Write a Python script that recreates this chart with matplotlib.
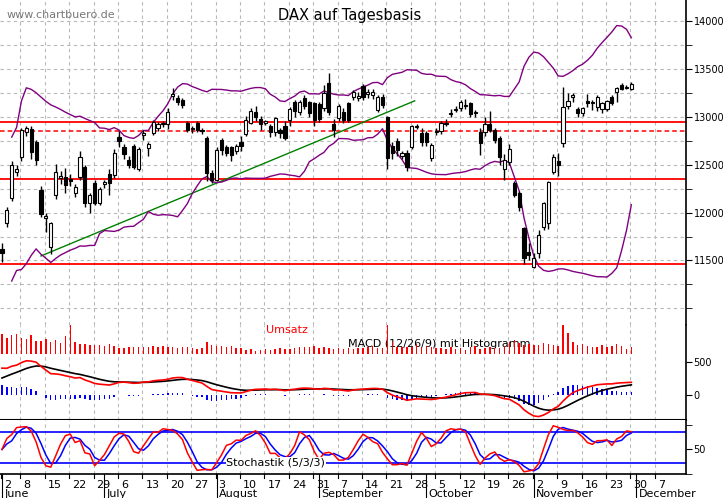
import numpy as np
import pandas as pd
import matplotlib
matplotlib.use("Agg")
import matplotlib.pyplot as plt

opens = [11620,11890,12150,12420,12580,12840,12870,12740,12240,11940,
         11640,12180,12360,12370,12350,12200,12370,12480,12100,12310,
         12100,12300,12400,12390,12790,12680,12550,12700,12450,12810,
         12670,12830,12880,12920,12920,13220,13200,13180,12940,12870,
         12940,12860,12780,12410,12340,12760,12690,12680,12640,12740,
         12820,12940,13050,12980,12940,12900,12840,12860,12900,12970,
         13150,13050,13200,13150,13140,13130,13090,13350,12920,12990,
         13050,13140,13210,13200,13320,13240,13230,13070,13210,13000,
         12700,12750,12590,12620,12690,12890,12830,12830,12570,12840,
         12850,12920,13030,13070,13090,13110,13140,13040,12840,12840,
         12930,12860,12780,12450,12530,12310,12200,11840,11590,11430,
         11580,11850,11890,12420,12540,12730,13110,13210,13080,13040,
         13170,13140,13100,13080,13080,13210,13260,13330,13300,13290]
closes = [11580,12030,12500,12460,12860,12880,12630,12550,11980,11960,
          11890,12420,12380,12290,12330,12270,12580,12100,12180,12100,
          12250,12320,12310,12620,12750,12610,12500,12480,12660,12830,
          12720,12950,12920,12930,13050,13230,13150,13120,12860,12880,
          12860,12850,12410,12340,12650,12650,12620,12600,12700,12700,
          12970,13060,13000,12930,12950,12840,12990,12830,12780,13080,
          13060,13150,13110,13040,12970,12980,13250,13050,12860,13110,
          12970,12970,13260,13210,13210,13250,13260,13210,13120,12570,
          12620,12650,12620,12480,12900,12900,12740,12740,12710,12850,
          12940,12930,13040,13080,13150,13120,13030,13040,12730,12920,
          12860,12760,12580,12550,12660,12180,12060,11530,11560,11530,
          11770,12100,12320,12580,12500,13100,13170,13220,13040,13090,
          13140,13150,13210,13140,13170,13140,13300,13290,13310,13340]
highs = [11680,12060,12540,12500,12880,12900,12900,12760,12280,12000,
         11900,12510,12430,12470,12400,12300,12640,12500,12200,12340,
         12270,12340,12450,12660,12850,12720,12590,12720,12690,12860,
         12740,12970,12950,12960,13090,13300,13230,13200,12960,12900,
         12960,12880,12800,12440,12680,12780,12710,12700,12720,12800,
         13010,13090,13110,13010,12970,12920,13000,12880,12960,13100,
         13180,13180,13230,13170,13160,13150,13330,13460,12980,13130,
         13090,13160,13280,13260,13340,13290,13290,13230,13240,13010,
         12740,12780,12640,12650,12910,12930,12880,12850,12730,12880,
         12960,12980,13080,13110,13180,13190,13160,13070,12880,13000,
         13060,12880,12800,12610,12720,12330,12230,11850,11680,11580,
         11820,12110,12330,12610,12620,13310,13250,13250,13100,13100,
         13240,13180,13230,13160,13180,13230,13310,13350,13330,13360]
lows = [11480,11850,12120,12380,12540,12800,12560,12500,11950,11800,
        11570,12140,12300,12200,12280,12160,12340,12060,12000,12080,
        12080,12260,12180,12360,12690,12560,12470,12460,12430,12760,
        12590,12810,12850,12890,12870,13180,13120,13090,12840,12830,
        12840,12820,12330,12310,12330,12600,12590,12540,12610,12640,
        12800,12920,12960,12860,12910,12790,12800,12780,12760,12900,
        13000,13020,13080,13000,12900,12950,13060,13020,12790,12960,
        12940,12950,13180,13170,13180,13200,13190,13050,13090,12460,
        12560,12590,12560,12430,12660,12870,12700,12700,12540,12810,
        12820,12900,13000,13050,13060,13080,13000,13000,12600,12800,
        12840,12730,12500,12340,12500,12160,12020,11460,11500,11420,
        11530,11820,11830,12400,12380,12680,13080,13150,13000,13010,
        13100,13070,13060,13040,13060,13120,13160,13280,13290,13280]
volume = [20,16,19,20,16,15,19,13,13,15,12,14,11,18,33,12,10,10,9,9,
          9,8,10,8,6,6,7,7,7,7,7,8,7,8,7,7,6,7,7,6,
          5,6,12,9,8,8,7,8,6,6,4,5,3,4,5,4,5,6,5,5,
          6,7,7,7,8,6,7,6,5,6,5,6,5,6,6,7,8,6,6,32,
          12,7,7,7,7,10,7,8,7,6,6,5,7,5,6,4,7,8,5,6,
          7,6,6,8,12,14,11,9,10,9,9,11,10,9,8,32,21,12,9,10,
          8,7,7,9,7,8,10,8,5,7]
price_labels = [11500, 12000, 12500, 13000, 13500, 14000]
support_levels = [12950, 12350, 11460]
dashed_level = 12850
trend_pts = ([8, 84.6], [11547, 13167])
macd_seeds = (11700.0, 11250.0, 220.0)   # EMA12, EMA26, signal at start
day_labels = ["2","8","15","22","29","6","13","20","27","3","10","17","24","31",
              "7","14","21","28","5","12","19","26","2","9","16","23","30","7"]
month_names = ["June","July","August","September","October","November","December"]
month_start_idx = [0, 21, 44, 65, 87, 109, 130]

n = len(closes)
idx = np.arange(n)
c = pd.Series(closes, dtype=float)
hi = pd.Series(highs, dtype=float); lo = pd.Series(lows, dtype=float)

mid = c.rolling(20, min_periods=3).mean()
sd = c.rolling(20, min_periods=3).std(ddof=0)
up, dn = mid + 2*sd, mid - 2*sd

ema12 = [macd_seeds[0]]; ema26 = [macd_seeds[1]]; sig = [macd_seeds[2]]
a12, a26, a9 = 2/13, 2/27, 2/10
for v in closes:
    ema12.append(ema12[-1] + a12*(v-ema12[-1]))
    ema26.append(ema26[-1] + a26*(v-ema26[-1]))
macd = np.array(ema12[1:]) - np.array(ema26[1:])
for m in macd:
    sig.append(sig[-1] + a9*(m-sig[-1]))
sig = np.array(sig[1:])
hist = macd - sig

ll = lo.rolling(5, min_periods=1).min(); hh = hi.rolling(5, min_periods=1).max()
k = 100*(c-ll)/(hh-ll)
ks = k.rolling(3, min_periods=1).mean()
ds = ks.rolling(3, min_periods=1).mean()

W, H = 723, 498
fig = plt.figure(figsize=(W/100, H/100), dpi=100)
AW = 686/W
ax1 = fig.add_axes([0, 1-325/H, AW, 325/H])
ax2 = fig.add_axes([0, 1-420/H, AW, 95/H])
ax3 = fig.add_axes([0, 1-474/H, AW, 54/H])
axv = ax2.twinx()
axv.set_ylim(-66, 29)
axv.axis("off")
xl = (-0.4, 140.2)
mondays = [0] + [4+5*j for j in range(27)]
grid_x = [m-0.2 for m in mondays]

for ax in (ax1, ax2, ax3):
    ax.set_xlim(*xl)
    ax.set_xticks([])
    ax.yaxis.tick_right()
    ax.yaxis.set_label_position("right")
    ax.tick_params(axis='y', which='both', labelsize=7, length=4, direction='out', pad=1.5,
                   left=False, labelleft=False, right=True, labelright=True)
    for s in ("left", "top"):
        ax.spines[s].set_visible(False)
    ax.spines['right'].set_visible(True)
    ax.spines['right'].set_linewidth(1.2)
    for gx in grid_x[1:]:
        ax.axvline(gx, color="#b8b8b8", ls=(0, (3, 3)), lw=0.8, zorder=0)
axv.set_xlim(*xl)

ax1.spines['bottom'].set_visible(False)
ax1.set_ylim(10826, 14220)
ax1.set_yticks(price_labels)
ax1.set_yticks(np.arange(11000, 14001, 250), minor=True)
for v in np.arange(11000, 14001, 250):
    ax1.axhline(v, color="#b8b8b8", ls=(0, (3, 3)), lw=0.8, zorder=0)
for lv in support_levels:
    ax1.axhline(lv, color="red", lw=1.3, zorder=1)
ax1.axhline(dashed_level, color="red", lw=1.1, ls=(0, (3, 2)), zorder=1)
ax1.plot(trend_pts[0], trend_pts[1], color="green", lw=1, zorder=2)
ax1.plot(idx, up, color="purple", lw=1, zorder=2)
ax1.plot(idx, dn, color="purple", lw=1, zorder=2)
for i in range(n):
    o, cl = opens[i], closes[i]
    ax1.vlines(i, lows[i], highs[i], color="black", lw=1, zorder=3)
    b0, b1 = min(o, cl), max(o, cl)
    if b1 - b0 < 15:
        b1 = b0 + 15
    ax1.bar(i, b1-b0, bottom=b0, width=0.65, color="black" if cl < o else "white",
            edgecolor="black", lw=0.8, zorder=4)
ax1.text(350/686*(xl[1]-xl[0])+xl[0], 14060, "DAX auf Tagesbasis", ha="center", va="center", fontsize=10.5)
ax1.text(1, 14060, "www.chartbuero.de", ha="left", va="center", fontsize=8, color="#777777")

ax2.spines['bottom'].set_linewidth(1.5)
ax2.set_ylim(-379, 1061)
ax2.set_yticks([0, 500])
ax2.bar(idx, hist, width=0.3, color="blue", zorder=2)
ax2.plot(idx, sig, color="black", lw=1.2, zorder=3)
ax2.plot(idx, macd, color="red", lw=1.2, zorder=3)
axv.bar(idx, volume, width=0.3, color="red")
axv.text(58.5, 24, "Umsatz", color="red", fontsize=8, ha="center", va="center")
ax2.text(71, 770, "MACD (12/26/9) mit Histogramm", fontsize=8, ha="left", va="center")

ax3.spines['bottom'].set_linewidth(1.2)
ax3.set_ylim(0, 110)
ax3.set_yticks([50])
ax3.set_yticks([0, 100], minor=True)
ax3.axhline(85, color="blue", lw=1.2)
ax3.axhline(23, color="blue", lw=1.2)
ax3.plot(idx, ds, color="blue", lw=1.1)
ax3.plot(idx, ks, color="red", lw=1.1)
ax3.text(46, 23, "Stochastik (5/3/3)", fontsize=8, ha="left", va="center",
         bbox=dict(facecolor="white", edgecolor="none", pad=0.5))

def fx(xd):
    return (xd - xl[0])/(xl[1]-xl[0])*AW
for gx, lab in zip(grid_x, day_labels):
    fig.text(fx(gx)+0.004, 1-485/H, lab, fontsize=8, ha="left", va="center")
    fig.add_artist(plt.Line2D([fx(gx)]*2, [1-474/H, 1-478/H], color="black", lw=0.8))
for mi, mn in zip(month_start_idx, month_names):
    xm = fx(mi - 0.3) + 0.002
    fig.add_artist(plt.Line2D([xm]*2, [1-474/H, 1-498/H], color="black", lw=0.8))
    fig.text(xm+0.003, 1-494/H, mn, fontsize=8, ha="left", va="center")

fig.savefig("out.png", dpi=100)
